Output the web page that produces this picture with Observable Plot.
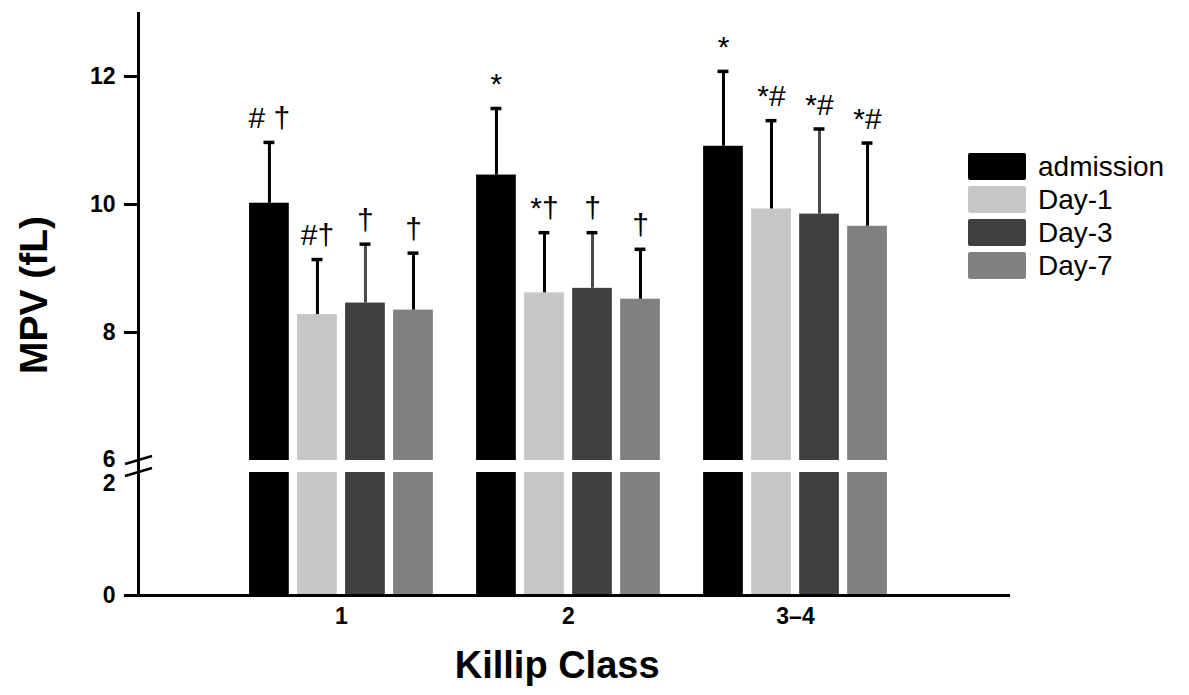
<!DOCTYPE html>
<html><head><meta charset="utf-8">
<script src="https://cdn.jsdelivr.net/npm/d3@7"></script>
<script src="https://cdn.jsdelivr.net/npm/@observablehq/plot@0.6"></script>
<style>
html,body{margin:0;padding:0;background:#fff;}
#wrap{position:relative;width:1189px;height:695px;background:#fff;}
#legend{position:absolute;left:968px;top:153px;font-family:"Liberation Sans",Arial,sans-serif;font-size:28px;color:#000;}
.row{display:flex;align-items:center;height:27px;margin-bottom:6px;}
.sw{width:58px;height:27px;margin-right:12px;border-radius:2px;}
</style></head><body><div id="wrap"></div>
<script>
// ---- data ----
const groups = ["1", "2", "3–4"];
const series = ["admission", "Day-1", "Day-3", "Day-7"];
const colors = ["#000000", "#c6c6c6", "#404040", "#808080"];

const meanAdmission = [10.02, 10.46, 10.91];
const meanDay1      = [8.28, 8.62, 9.93];
const meanDay3      = [8.46, 8.69, 9.85];
const meanDay7      = [8.35, 8.52, 9.66];

const sdAdmission = [0.95, 1.04, 1.17];
const sdDay1      = [0.86, 0.94, 1.38];
const sdDay3      = [0.92, 0.87, 1.33];
const sdDay7      = [0.89, 0.78, 1.30];

const noteAdmission = ["# †", "*", "*"];
const noteDay1      = ["#†", "*†", "*#"];
const noteDay3      = ["†", "†", "*#"];
const noteDay7      = ["†", "†", "*#"];

const yTicksMain = [0, 8, 10, 12];
const yTickUpperBreak = [6];
const yTickLowerBreak = [2];

// ---- table ----
const means = [meanAdmission, meanDay1, meanDay3, meanDay7];
const sds = [sdAdmission, sdDay1, sdDay3, sdDay7];
const notes = [noteAdmission, noteDay1, noteDay3, noteDay7];
const data = [];
groups.forEach((g, gi) => series.forEach((s, si) => data.push({
  group: g, gi, series: s, si, mean: means[si][gi], sd: sds[si][gi], note: notes[si][gi]
})));

// layout (in x-scale units: one unit per group)
const barStep = 0.2115, barHalf = 0.0875, capHalf = 0.024;
const xMin = -0.894, xMax = 2.947;
const xPos = d => d.gi + (d.si - 1.5) * barStep;
const errTop = d => d.mean + d.sd;

function breakMarks(index, scales) {
  const x0 = scales.x(xMin);
  const g = d3.create("svg:g").attr("stroke", "#000").attr("stroke-width", 2.5);
  for (const v of [6, 2]) {
    const yy = scales.y(v);
    g.append("line").attr("x1", x0 - 13).attr("y1", yy + 4).attr("x2", x0 + 14).attr("y2", yy - 4);
  }
  return g.node();
}

const font = "'Liberation Sans', Arial, sans-serif";
const chart = Plot.plot({
  width: 1189,
  height: 695,
  marginLeft: 138,
  marginRight: 179,
  marginTop: 12,
  marginBottom: 100,
  style: {fontFamily: font, fontSize: "22px", fontWeight: "bold", background: "white", color: "black"},
  x: {type: "linear", domain: [xMin, xMax]},
  y: {type: "linear", domain: [0, 2, 6, 13], range: [595, 472, 460, 12]},
  color: {domain: series, range: colors},
  marks: [
    Plot.rect(data, {x1: d => xPos(d) - barHalf, x2: d => xPos(d) + barHalf, y1: 0, y2: "mean", fill: "series"}),
    Plot.rect([0], {x1: xMin, x2: xMax, y1: 2, y2: 6, fill: "white"}),
    Plot.ruleX(data, {x: xPos, y1: "mean", y2: errTop, stroke: d => d.series === "Day-3" ? "#4a4a4a" : "#000", strokeWidth: 3}),
    Plot.ruleY(data, {y: errTop, x1: d => xPos(d) - capHalf, x2: d => xPos(d) + capHalf, stroke: "#000", strokeWidth: 3.5}),
    Plot.text(data, {x: xPos, y: errTop, text: "note", dy: -24, fontSize: 30, fontWeight: "normal", fill: "#000"}),
    Plot.ruleX([xMin], {y1: 0, y2: 13, strokeWidth: 3}),
    Plot.ruleY([0], {strokeWidth: 3}),
    breakMarks,
    Plot.axisY(yTicksMain, {tickSize: 14, tickPadding: 9, strokeWidth: 3, fontSize: 23, fontWeight: "bold", label: null}),
    Plot.axisY(yTickUpperBreak, {tickSize: 0, tickPadding: 23, dy: -1, fontSize: 23, fontWeight: "bold", label: null}),
    Plot.axisY(yTickLowerBreak, {tickSize: 0, tickPadding: 23, dy: 11, fontSize: 23, fontWeight: "bold", label: null}),
    Plot.axisX([0, 1, 2], {tickSize: 0, tickPadding: 12, fontSize: 23, fontWeight: "bold", tickFormat: i => groups[i], label: null}),
    Plot.text(["MPV (fL)"], {frameAnchor: "left", dx: -104, dy: -9, rotate: -90, textAnchor: "middle", lineAnchor: "middle", fontSize: 39, fontWeight: "bold"}),
    Plot.text(["Killip Class"], {x: 0.95, frameAnchor: "bottom", dy: 70, textAnchor: "middle", lineAnchor: "middle", fontSize: 38, fontWeight: "bold"})
  ]
});

const wrap = document.getElementById("wrap");
wrap.appendChild(chart);

const legend = document.createElement("div");
legend.id = "legend";
series.forEach((s, i) => {
  const row = document.createElement("div");
  row.className = "row";
  const sw = document.createElement("div");
  sw.className = "sw";
  sw.style.background = colors[i];
  const lab = document.createElement("span");
  lab.textContent = s;
  row.appendChild(sw);
  row.appendChild(lab);
  legend.appendChild(row);
});
wrap.appendChild(legend);
</script></body></html>
